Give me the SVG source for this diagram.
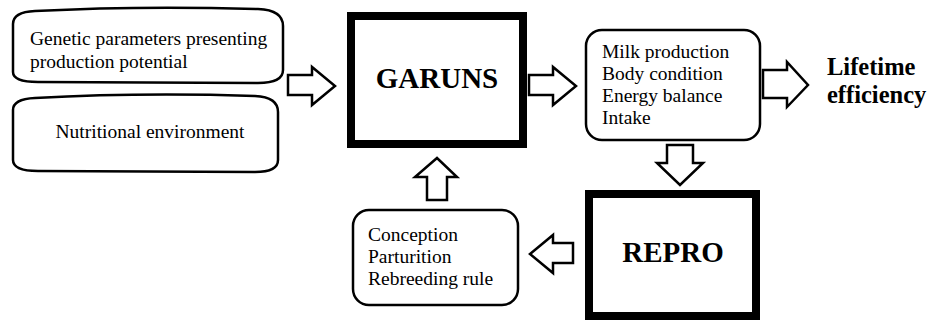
<svg xmlns="http://www.w3.org/2000/svg" width="930" height="320" viewBox="0 0 930 320">
<style>
.thin{fill:#fff;stroke:#000;stroke-width:2.5}
.thick{fill:#fff;stroke:#000;stroke-width:8}
.arr{fill:#fff;stroke:#000;stroke-width:2.5;stroke-linejoin:miter}
.t{font-family:"Liberation Serif","Times New Roman",serif;font-size:19.5px;fill:#000}
.b{font-family:"Liberation Serif","Times New Roman",serif;font-weight:bold;fill:#000}
</style>
<rect width="930" height="320" fill="#fff"/>
<g id="genetic">
<path class="thin" d="M35,11 C110,7 190,7 258,9 Q283,10 283,26 L283,70 Q283,83 258,83 L38,82 Q13,82 13,72 L13,24 Q13,12 35,11 Z"/>
<text class="t" x="30" y="45">Genetic parameters presenting</text>
<text class="t" x="30" y="68">production potential</text>
</g>
<g id="nutrition">
<path class="thin" d="M35,98 C110,94 190,94 255,96 Q278,97 278,112 L278,160 Q278,172 255,172 L38,171 Q13,171 13,160 L13,110 Q13,99 35,98 Z"/>
<text class="t" x="150" y="138" text-anchor="middle">Nutritional environment</text>
</g>
<g id="garuns">
<rect class="thick" x="351" y="16" width="172" height="128"/>
<text class="b" x="437" y="88" font-size="29" text-anchor="middle">GARUNS</text>
</g>
<g id="outputs">
<rect class="thin" x="586" y="30" width="174" height="110" rx="16"/>
<text class="t" x="602" y="58">Milk production</text>
<text class="t" x="602" y="80">Body condition</text>
<text class="t" x="602" y="102">Energy balance</text>
<text class="t" x="602" y="124">Intake</text>
</g>
<g id="lifetime">
<text class="b" x="827" y="75" font-size="24.5">Lifetime</text>
<text class="b" x="827" y="103" font-size="24.5">efficiency</text>
</g>
<g id="repro">
<rect class="thick" x="589" y="194" width="167" height="122"/>
<text class="b" x="673" y="262" font-size="29" text-anchor="middle">REPRO</text>
</g>
<g id="reproduction">
<rect class="thin" x="353" y="210" width="165" height="95" rx="16"/>
<text class="t" x="368" y="241">Conception</text>
<text class="t" x="368" y="263">Parturition</text>
<text class="t" x="368" y="285">Rebreeding rule</text>
</g>
<g id="connectors">
<polygon class="arr" points="288,75 312,75 312,67 335,86 312,105 312,95 288,95"/>
<polygon class="arr" points="529,75 553,75 553,67 576,86 553,105 553,95 529,95"/>
<polygon class="arr" points="763,70 787,70 787,62 808,85 787,107 787,98 763,98"/>
<polygon class="arr" points="667,145 693,145 693,163 703,163 680,185 657,163 667,163"/>
<polygon class="arr" points="573,243 573,263 553,263 553,273 530,254 553,235 553,243"/>
<polygon class="arr" points="427,200 447,200 447,177 457,177 437,158 415,177 427,177"/>
</g>
</svg>
